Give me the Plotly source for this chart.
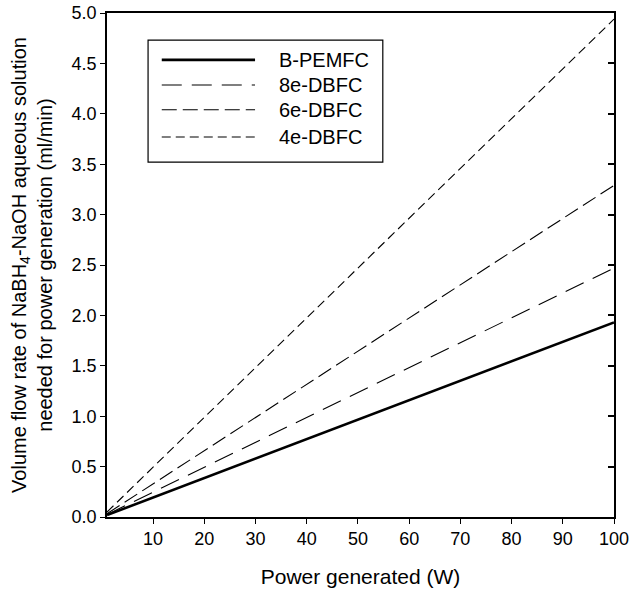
import plotly.graph_objects as go

power = [1, 100]
series_names = ["B-PEMFC", "8e-DBFC", "6e-DBFC", "4e-DBFC"]
b_pemfc = [0.0193, 1.93]
dbfc_8e = [0.0247, 2.47]
dbfc_6e = [0.0329, 3.29]
dbfc_4e = [0.0494, 4.94]
x_ticks = [10, 20, 30, 40, 50, 60, 70, 80, 90, 100]
y_ticks = [0.0, 0.5, 1.0, 1.5, 2.0, 2.5, 3.0, 3.5, 4.0, 4.5, 5.0]

styles = [
    dict(width=2.6, dash="solid"),
    dict(width=1.1, dash="20px,10px"),
    dict(width=1.1, dash="15px,6px"),
    dict(width=1.1, dash="9px,5px"),
]
values = [b_pemfc, dbfc_8e, dbfc_6e, dbfc_4e]

fig = go.Figure()
for name, ys, st in zip(series_names, values, styles):
    fig.add_trace(go.Scatter(x=power, y=ys, mode="lines", name=name,
                             line=dict(color="black", **st), showlegend=False))

# invisible trace for right-side inward ticks
fig.add_trace(go.Scatter(x=power, y=[0, 5], mode="lines", yaxis="y2",
                         line=dict(width=0.01, color="rgba(0,0,0,0)"),
                         hoverinfo="skip", showlegend=False))

font = "Liberation Sans, Arial, sans-serif"
fig.update_layout(
    width=629, height=596,
    margin=dict(l=107, r=15, t=13, b=79),
    plot_bgcolor="white", paper_bgcolor="white",
    font=dict(family=font, color="black", size=18),
    xaxis=dict(range=[1, 100], tickvals=x_ticks, ticks="outside", ticklen=5,
               tickwidth=1, tickcolor="black", showline=True, linecolor="black",
               linewidth=1.5, mirror=True, showgrid=False, zeroline=False,
               automargin=False, ticklabeloverflow="allow", tickfont=dict(size=18),
               title=dict(text="Power generated (W)", font=dict(size=21), standoff=21)),
    yaxis=dict(range=[0, 5.0], tickvals=y_ticks, tickformat=".1f", ticks="outside",
               ticklen=5, tickwidth=1, tickcolor="black", showline=True,
               linecolor="black", linewidth=1.5, mirror=True, showgrid=False,
               zeroline=False, automargin=False, ticklabeloverflow="allow",
               tickfont=dict(size=18),
               title=dict(text="Volume flow rate of NaBH<sub>4</sub>-NaOH aqueous solution<br>needed for power generation (ml/min)",
                          font=dict(size=20), standoff=14)),
    yaxis2=dict(range=[0, 5.0], tickvals=y_ticks, overlaying="y", side="right",
                anchor="x", ticks="inside", ticklen=6, tickwidth=1.5, tickcolor="black",
                showticklabels=False, showgrid=False, zeroline=False,
                showline=False, automargin=False),
)

# manual legend (box, line samples, labels) in paper coordinates
box_x0, box_x1, box_y0, box_y1 = 0.081, 0.544, 0.704, 0.946
fig.add_shape(type="rect", xref="paper", yref="paper", x0=box_x0, x1=box_x1,
              y0=box_y0, y1=box_y1, line=dict(color="black", width=1.2),
              fillcolor="white", layer="above")
entry_y = [0.907, 0.857, 0.808, 0.754]
for name, st, ey in zip(series_names, styles, entry_y):
    fig.add_shape(type="line", xref="paper", yref="paper", x0=0.108, x1=0.292,
                  y0=ey, y1=ey, line=dict(color="black", width=st["width"], dash=st["dash"]),
                  layer="above")
    fig.add_annotation(xref="paper", yref="paper", x=0.335, y=ey, text=name,
                       showarrow=False, xanchor="left", yanchor="middle",
                       font=dict(size=20, family=font, color="black"))

fig.write_html("out.html", config={"displayModeBar": False},
               post_script="document.body.style.margin='0';")
